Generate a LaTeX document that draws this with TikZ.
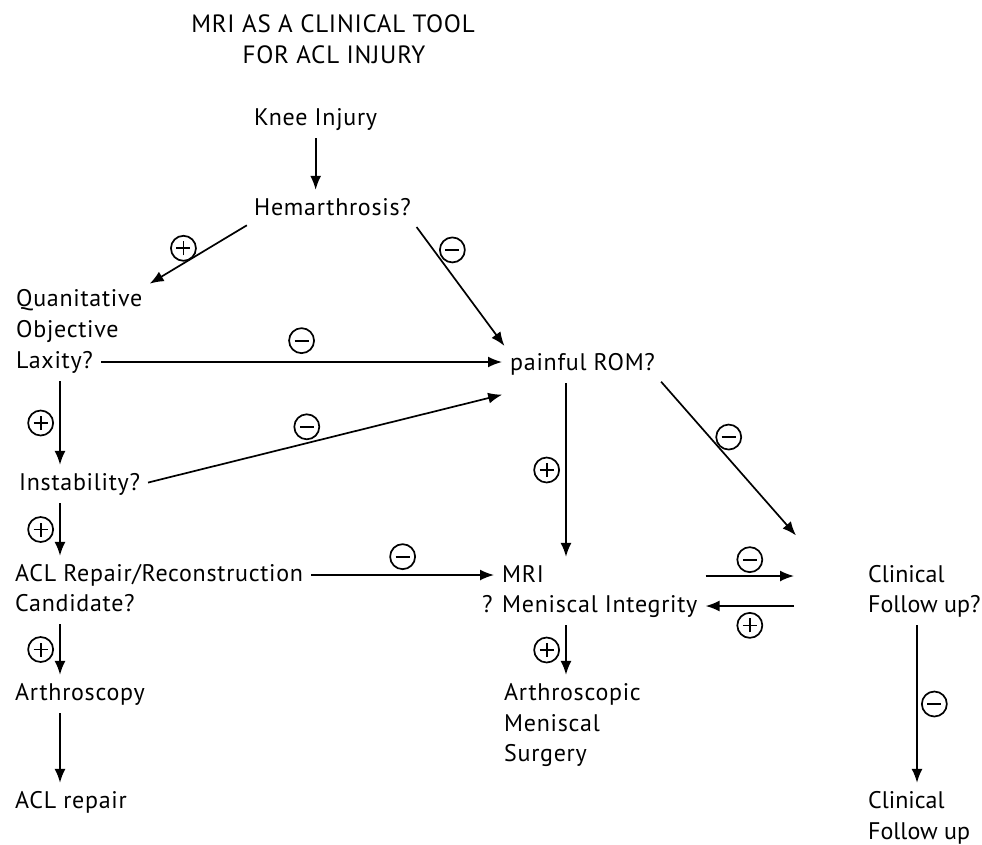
\documentclass[tikz,border=0pt]{standalone}
\usepackage{fontspec}
\setmainfont{PT Sans}[LetterSpace=3]
\newfontfamily\rightfont{PT Sans}
\usepackage{tikz}
\usetikzlibrary{arrows.meta}
\usetikzlibrary{positioning}
\usetikzlibrary{calc}

\begin{document}
\begin{tikzpicture}[x=1pt,y=-1pt,
  txt/.style={anchor=base west,inner sep=2pt,text height=17pt,text depth=5pt,font=\fontsize{24}{28}\selectfont},
  ttl/.style={anchor=base,inner sep=2pt,font=\fontsize{25}{30}\selectfont},
  arr/.style={-{Latex[length=14pt,width=11pt]},line width=1.7pt,shorten >=6pt,shorten <=6pt},
  bar/.style={-,line width=1.7pt,shorten >=0pt,shorten <=0pt},
  sgn/.style={circle,draw,line width=1.7pt,inner sep=0pt,minimum size=25pt},
  sgnminus/.style={sgn,path picture={
    \draw[bar] ([xshift=-7pt]path picture bounding box.center) -- ([xshift=7pt]path picture bounding box.center);}},
  sgnplus/.style={sgn,path picture={
    \draw[bar] ([xshift=-7pt]path picture bounding box.center) -- ([xshift=7pt]path picture bounding box.center);
    \draw[bar] ([yshift=-7pt]path picture bounding box.center) -- ([yshift=7pt]path picture bounding box.center);}}]
  \useasboundingbox (0,0) rectangle (982,844);
  % heading
  \node[ttl] (ttla) at (333,32) {MRI AS A CLINICAL TOOL};
  \node[ttl] (ttlb) at (334,63) {FOR ACL INJURY};
  % columns for the vertical arrows
  \coordinate (lcol) at (60,0);
  \coordinate (mcol) at (566,0);
  \coordinate (rcol) at (917,0);
  \coordinate (cin) at (800,540);
  % text
  \node[txt] (knee) at (252,125) {Knee Injury};
  \node[txt] (hem) at (252,215) {Hemarthrosis?};
  \node[txt] (quan) at (14,306) {Quanitative};
  \node[txt] (obj) at (14,337) {Objective};
  \node[txt] (lax) at (14,368) {Laxity?};
  \node[txt] (rom) at (508,370) {painful ROM?};
  \node[txt] (inst) at (17,490) {Instability?};
  \node[txt] (acl) at (13,581) {ACL Repair/Reconstruction};
  \node[txt] (cand) at (13,611) {Candidate?};
  \node[txt] (arth) at (13,700) {Arthroscopy};
  \node[txt] (repair) at (13,808) {ACL repair};
  \node[txt] (mri) at (500,582) {MRI};
  \node[txt] (integ) at (500,612) {\llap{? }Meniscal Integrity};
  \node[txt] (arthc) at (502,700) {Arthroscopic};
  \node[txt] (menis) at (502,731) {Meniscal};
  \node[txt] (surg) at (502,761) {Surgery};
  \node[txt,font=\fontsize{24}{28}\rightfont] (clin) at (866,582) {Clinical};
  \node[txt,font=\fontsize{24}{28}\rightfont] (fupq) at (866,612) {Follow up?};
  \node[txt,font=\fontsize{24}{28}\rightfont] (clinb) at (866,808) {Clinical};
  \node[txt,font=\fontsize{24}{28}\rightfont] (fup) at (866,839) {Follow up};
  % arrows
  \draw[arr] (knee.south) -- (knee.south |- hem.north);
  \draw[arr] (hem.south west) -- (quan.north east) node[sgnplus,pos=.55,above left=0pt] {};
  \draw[arr] (hem.south east) -- (rom.north west) node[sgnminus,pos=.3,above right=2pt] {};
  \draw[arr] (lax.east) -- (lax.east -| rom.west) node[sgnminus,midway,above=8pt] {};
  \draw[arr] (lax.south -| lcol) -- (inst.north -| lcol) node[sgnplus,midway,left=6pt] {};
  \draw[arr] (inst.east) -- ([yshift=-16pt]rom.south west) node[sgnminus,pos=.45,above=3pt] {};
  \draw[arr] (inst.south -| lcol) -- (acl.north -| lcol) node[sgnplus,midway,left=6pt] {};
  \draw[arr] (acl.east) -- (acl.east -| mri.west) node[sgnminus,midway,above=5pt] {};
  \draw[arr] (cand.south -| lcol) -- (arth.north -| lcol) node[sgnplus,midway,left=6pt] {};
  \draw[arr] (arth.south -| lcol) -- (repair.north -| lcol);
  \draw[arr] (rom.south -| mcol) -- (mri.north -| mcol) node[sgnplus,midway,left=6pt] {};
  \draw[arr] (rom.south east) -- (cin) node[sgnminus,pos=.43,above right=1pt] {};
  \draw[arr] (integ.east |- mri) -- (cin |- mri) node[sgnminus,midway,above=3pt] {};
  \draw[arr] (cin |- integ) -- (integ.east) node[sgnplus,midway,below=6pt] {};
  \draw[arr] (integ.south -| mcol) -- (arthc.north -| mcol) node[sgnplus,midway,left=6pt] {};
  \draw[arr] (fupq.south -| rcol) -- (clinb.north -| rcol) node[sgnminus,midway,right=4pt] {};
\end{tikzpicture}
\end{document}
